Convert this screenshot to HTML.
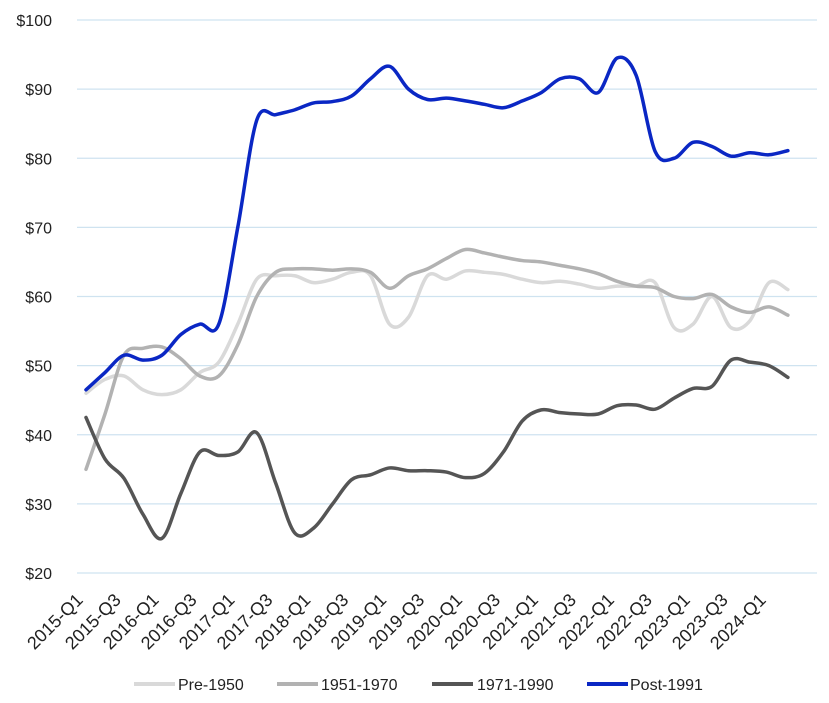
<!DOCTYPE html>
<html><head><meta charset="utf-8"><style>
html,body{margin:0;padding:0;background:#fff;}
svg{display:block;font-family:"Liberation Sans",Arial,sans-serif;}
</style></head><body>
<svg id="c" width="829" height="703" viewBox="0 0 829 703" xmlns="http://www.w3.org/2000/svg">
<g id="grid"></g><g id="ylab" font-size="16" fill="#222" text-anchor="end"></g>
<g id="xlab" font-size="18" fill="#222" text-anchor="end"></g>
<g id="series" fill="none" stroke-linecap="round" stroke-linejoin="round"></g>
<g font-size="16" fill="#222">
<line x1="134" y1="684" x2="175" y2="684" stroke="#d9d9d9" stroke-width="4"/><text x="178" y="690">Pre-1950</text>
<line x1="277" y1="684" x2="318" y2="684" stroke="#b2b2b2" stroke-width="4"/><text x="321" y="690">1951-1970</text>
<line x1="432" y1="684" x2="473" y2="684" stroke="#555" stroke-width="4"/><text x="477" y="690">1971-1990</text>
<line x1="587" y1="684" x2="628" y2="684" stroke="#0a27c4" stroke-width="4"/><text x="630" y="690">Post-1991</text>
</g>
</svg>
<script>
var NS="http://www.w3.org/2000/svg";
function Y(v){return 573-(v-20)*6.9125;}
function X(i){return 86+i*18.97;}
function el(p,t,a,txt){var e=document.createElementNS(NS,t);for(var k in a)e.setAttribute(k,a[k]);if(txt)e.textContent=txt;document.getElementById(p).appendChild(e);}
for(var v=20;v<=100;v+=10){el("grid","line",{x1:77,x2:817,y1:Y(v),y2:Y(v),stroke:"#cfe3f0","stroke-width":1.2});el("ylab","text",{x:52,y:Y(v)+6},"$"+v);}
for(var i=0;i<38;i+=2){var yr=2015+Math.floor(i/4),q=(i%4)+1;var x=X(i)-2,y=601;el("xlab","text",{x:x,y:y,transform:"rotate(-45 "+x+" "+y+")"},yr+"-Q"+q);}
var S=[
["#d9d9d9",[46,48,48.5,46.5,45.8,46.5,49,50.5,56,62.5,63,63,62,62.5,63.5,63,56,57,63,62.5,63.7,63.5,63.2,62.5,62,62.2,61.8,61.2,61.5,61.5,62,55.5,56,60,55.5,56.5,62,61]],
["#b2b2b2",[35,43,51.5,52.5,52.7,51,48.5,48.5,53,60,63.5,64,64,63.8,64,63.5,61.2,63,64,65.5,66.8,66.3,65.7,65.2,65,64.5,64,63.3,62.2,61.5,61.3,60,59.7,60.3,58.5,57.7,58.5,57.3]],
["#555555",[42.5,36.5,33.7,28.5,25,31.5,37.5,37,37.5,40.3,33,25.8,26.5,30,33.5,34.2,35.2,34.8,34.8,34.6,33.8,34.4,37.5,42,43.6,43.2,43,43,44.2,44.3,43.7,45.3,46.7,47,50.8,50.5,50,48.3]],
["#0a27c4",[46.5,49,51.5,50.8,51.5,54.5,56,56,70,85.5,86.3,87,88,88.2,89,91.5,93.3,90,88.5,88.7,88.3,87.8,87.3,88.3,89.5,91.5,91.5,89.5,94.5,92,81,80,82.3,81.7,80.3,80.8,80.5,81.1]]];
S.forEach(function(s){var p=s[1].map(function(v,i){return [X(i),Y(v)];});var d="M"+p[0][0]+","+p[0][1];
for(var i=0;i<p.length-1;i++){var p0=p[i-1]||p[i],p1=p[i],p2=p[i+1],p3=p[i+2]||p2,t=6;
d+=" C"+(p1[0]+(p2[0]-p0[0])/t)+","+(p1[1]+(p2[1]-p0[1])/t)+" "+(p2[0]-(p3[0]-p1[0])/t)+","+(p2[1]-(p3[1]-p1[1])/t)+" "+p2[0]+","+p2[1];}
el("series","path",{d:d,stroke:s[0],"stroke-width":3.5});});
</script>
</body></html>
